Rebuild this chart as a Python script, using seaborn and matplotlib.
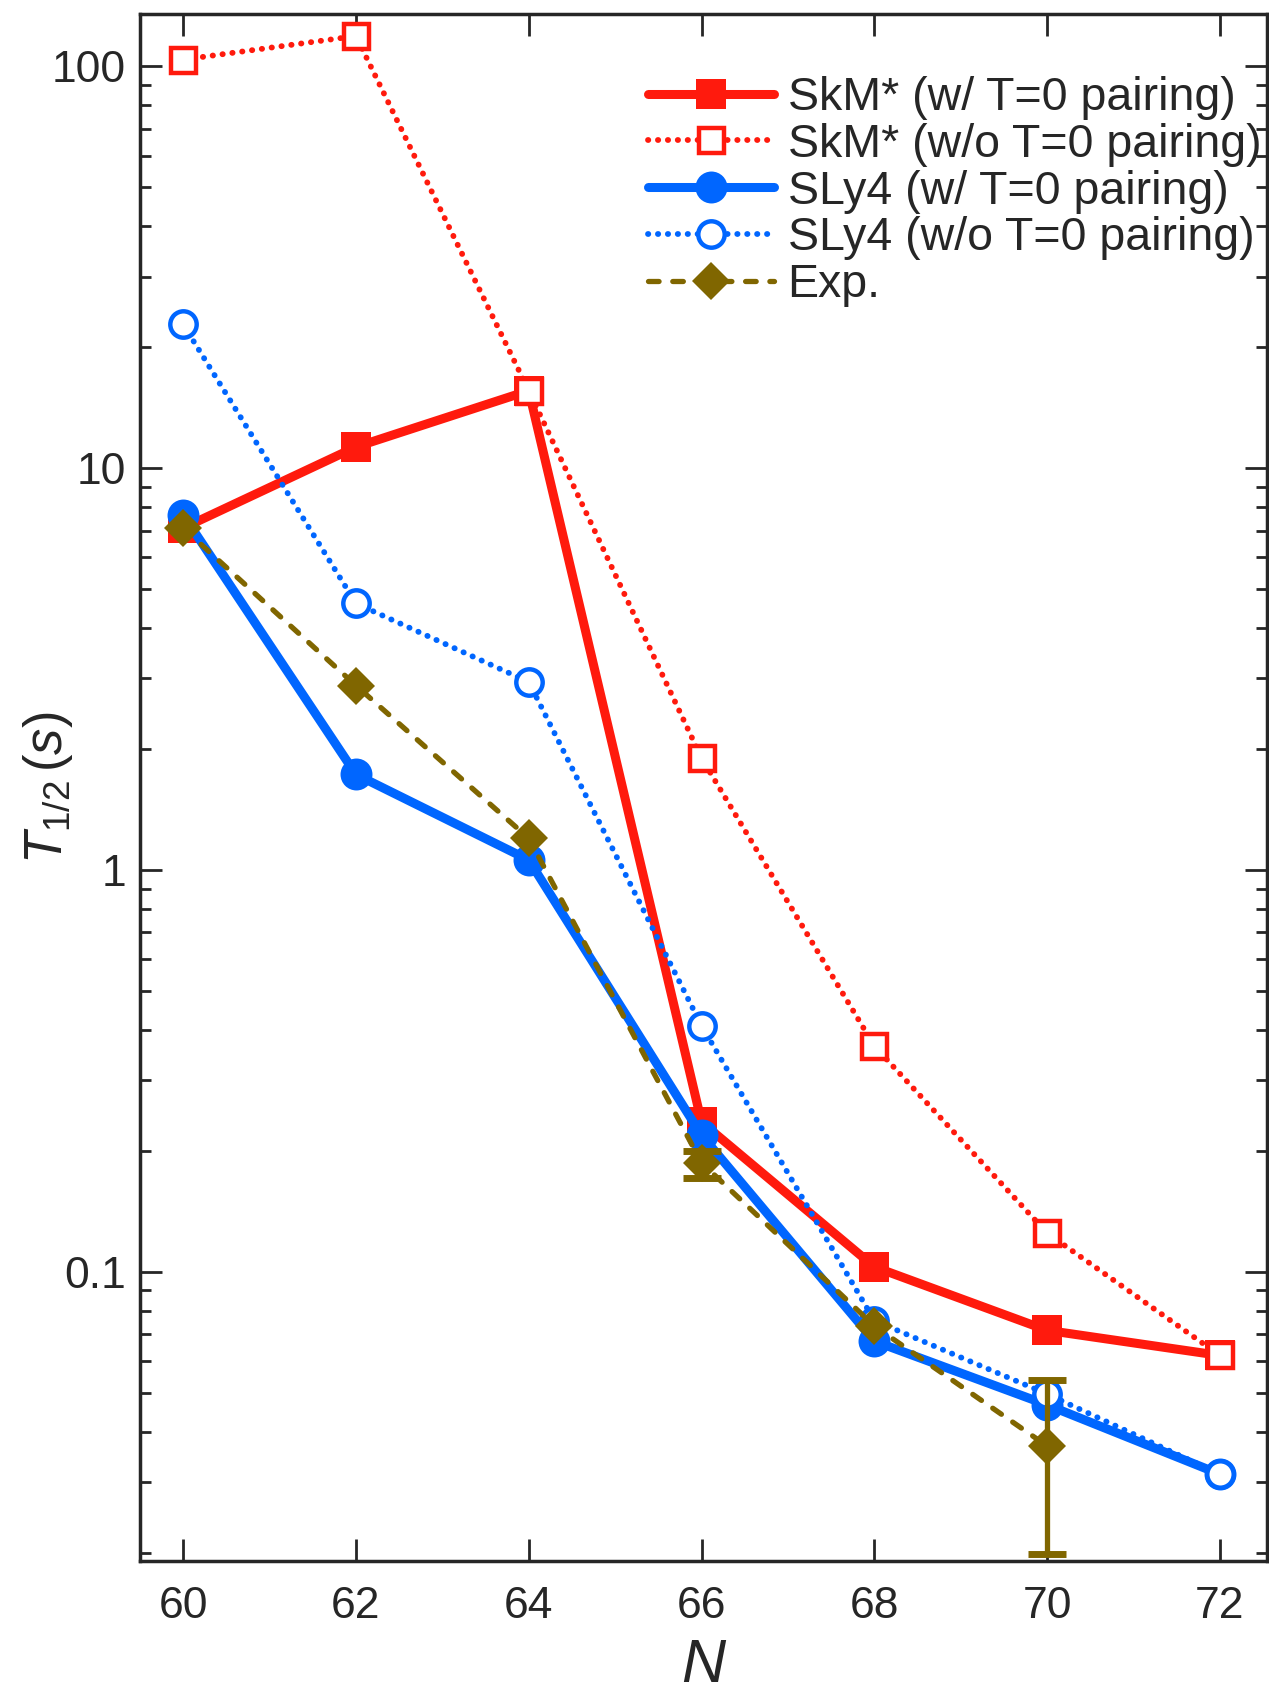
import matplotlib
matplotlib.use('Agg')
import matplotlib.pyplot as plt
import numpy as np
import pandas as pd
import seaborn as sns
from matplotlib.ticker import LogLocator, NullFormatter, FixedLocator, MultipleLocator

sns.set_style("ticks")
plt.rcParams['font.family'] = ['Liberation Sans', 'DejaVu Sans']
plt.rcParams['mathtext.fontset'] = 'custom'
plt.rcParams['mathtext.it'] = 'Liberation Sans:italic'
plt.rcParams['mathtext.rm'] = 'Liberation Sans'

N = [60, 62, 64, 66, 68, 70, 72]
skm_w = [7.1, 11.3, 15.6, 0.236, 0.103, 0.0716, 0.062]
skm_wo = [104, 119, 15.6, 1.9, 0.365, 0.125, 0.062]
sly4_w = [7.66, 1.73, 1.06, 0.219, 0.0673, 0.0467, 0.0314]
sly4_wo = [22.8, 4.61, 2.94, 0.41, 0.0757, 0.0497, 0.0314]
N_exp = [60, 62, 64, 66, 68, 70]
exp = [7.1, 2.88, 1.20, 0.187, 0.0734, 0.0369]
# experimental points that carry visible error bars
N_err = [66, 70]
exp_err = [0.187, 0.0369]
err_lo = [0.016, 0.0170]
err_hi = [0.013, 0.0169]

red = '#ff1a0d'
blue = '#0066ff'
olive = '#806600'

fig = plt.figure(figsize=(12.69, 16.91), dpi=100)
ax = fig.add_axes([0.1103, 0.0769, 0.8885, 0.9148])

df = pd.DataFrame({'N': N, 'skm_w': skm_w, 'skm_wo': skm_wo,
                   'sly4_w': sly4_w, 'sly4_wo': sly4_wo})
dfe = pd.DataFrame({'N': N_exp, 'exp': exp})

dot = (0, (0.05, 1.65))
sns.lineplot(data=df, x='N', y='skm_w', ax=ax, color=red, lw=6.5, marker='s',
             markersize=21, markeredgewidth=0, label='SkM* (w/ T=0 pairing)')
sns.lineplot(data=df, x='N', y='skm_wo', ax=ax, color=red, lw=4.2, linestyle=dot,
             dash_capstyle='round', marker='s', markersize=18, markerfacecolor='white',
             markeredgecolor=red, markeredgewidth=3.2, label='SkM* (w/o T=0 pairing)')
sns.lineplot(data=df, x='N', y='sly4_w', ax=ax, color=blue, lw=6.5, marker='o',
             markersize=23, markeredgewidth=0, label='SLy4 (w/ T=0 pairing)')
sns.lineplot(data=df, x='N', y='sly4_wo', ax=ax, color=blue, lw=4.2, linestyle=dot,
             dash_capstyle='round', marker='o', markersize=19, markerfacecolor='white',
             markeredgecolor=blue, markeredgewidth=3.2, label='SLy4 (w/o T=0 pairing)')
sns.lineplot(data=dfe, x='N', y='exp', ax=ax, color=olive, lw=3.8,
             linestyle=(0, (2.0, 2.6)), dash_capstyle='round', marker='D',
             markersize=19, markeredgewidth=0, label='Exp.')
ax.errorbar(N_err, exp_err, yerr=[err_lo, err_hi], fmt='none', ecolor=olive,
            elinewidth=3.8, capsize=14, capthick=5)

ax.set_yscale('log')
ax.set_xlim(59.5, 72.55)
ax.set_ylim(0.0191, 135)
ax.xaxis.set_major_locator(MultipleLocator(2))
ax.yaxis.set_major_locator(FixedLocator([0.1, 1, 10, 100]))
ax.set_yticklabels(['0.1', '1', '10', '100'])
ax.yaxis.set_minor_locator(LogLocator(base=10, subs=np.arange(2, 10)))
ax.yaxis.set_minor_formatter(NullFormatter())

ax.tick_params(which='both', direction='in', top=True, right=True, labelsize=32,
               width=2)
ax.tick_params(which='major', length=16)
ax.tick_params(axis='x', which='major', pad=18)
ax.tick_params(axis='y', which='major', pad=10)
ax.tick_params(which='minor', length=8)
for s in ax.spines.values():
    s.set_linewidth(2.5)

ax.set_xlabel('$N$', fontsize=44, labelpad=8)
ax.set_ylabel('$\\mathit{T}_{\\mathit{1/2}}\\,\\mathit{(s)}$', fontsize=38)
ax.yaxis.set_label_coords(-0.058, 0.5)

ax.legend(loc='upper right', frameon=False, fontsize=33.5, handlelength=2.7,
          labelspacing=0.06, handletextpad=0.3, borderaxespad=0.1,
          bbox_to_anchor=(1.015, 0.975))

fig.savefig('out.png', dpi=100)
